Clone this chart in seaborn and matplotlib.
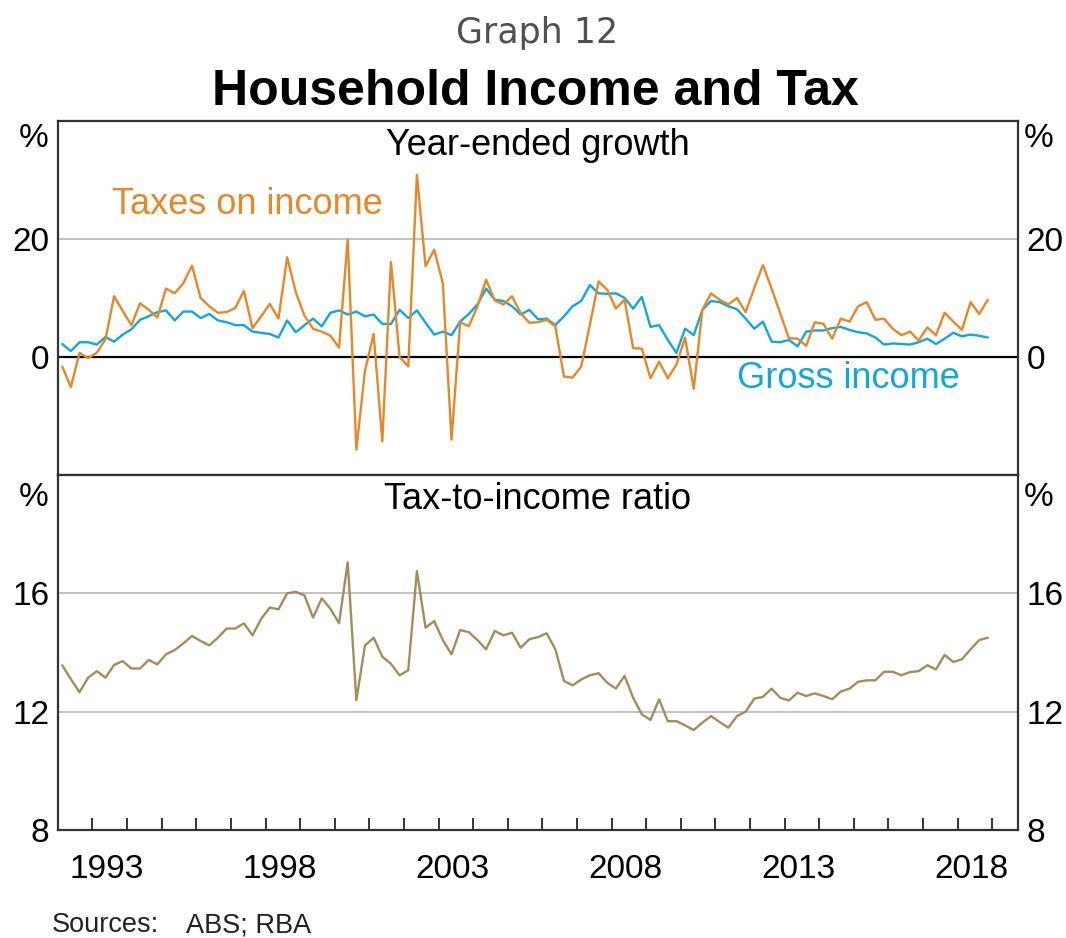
import pandas as pd
import seaborn as sns
import matplotlib.pyplot as plt

# quarterly data, 1992 Q1 to 2018 Q4
first_quarter = '1992Q1'
last_quarter = '2018Q4'

# year-ended growth, per cent
taxes_growth = [
    -1.6, -5.1, 0.7, -0.2, 0.7, 3.0, 10.3, 7.8, 5.4, 9.1, 8.0, 6.7,
    11.6, 10.8, 12.5, 15.5, 10.0, 8.6, 7.5, 7.6, 8.3, 11.2, 4.9, 6.9,
    9.0, 6.5, 16.9, 11.0, 7.0, 4.8, 4.3, 3.6, 1.6, 19.9, -15.7, -2.3,
    3.9, -14.3, 16.1, 0.0, -1.6, 30.9, 15.4, 18.2, 12.5, -14.0, 5.9, 5.2,
    8.6, 13.1, 9.6, 8.9, 10.3, 7.4, 5.8, 5.9, 6.3, 5.2, -3.3, -3.5,
    -1.6, 5.5, 12.8, 11.4, 8.2, 9.7, 1.5, 1.4, -3.6, -0.8, -3.6, -1.3,
    3.3, -5.4, 8.0, 10.8, 9.7, 8.9, 10.0, 7.6, 11.7, 15.6, 11.6, 7.4,
    3.2, 3.1, 1.9, 5.9, 5.6, 3.1, 6.5, 6.0, 8.6, 9.3, 6.3, 6.5,
    4.8, 3.7, 4.3, 2.8, 5.0, 3.7, 7.5, 6.0, 4.6, 9.3, 7.3, 9.7,
]
gross_growth = [
    2.2, 1.0, 2.5, 2.5, 2.1, 3.4, 2.6, 3.8, 4.7, 6.3, 6.9, 7.6,
    7.9, 6.2, 7.7, 7.7, 6.6, 7.3, 6.2, 5.9, 5.4, 5.4, 4.3, 4.1,
    3.9, 3.3, 6.2, 4.2, 5.4, 6.5, 5.2, 7.5, 7.9, 7.2, 7.7, 6.9,
    7.2, 5.6, 5.6, 8.0, 6.6, 7.9, 5.8, 3.8, 4.3, 3.7, 6.0, 7.3,
    8.9, 11.6, 9.7, 9.5, 8.6, 7.2, 8.0, 6.4, 6.5, 5.4, 6.9, 8.6,
    9.5, 12.2, 10.8, 10.7, 10.8, 10.0, 8.2, 10.2, 5.1, 5.4, 2.9, 0.7,
    4.8, 3.7, 8.0, 9.5, 9.3, 8.6, 8.1, 6.5, 4.8, 6.0, 2.6, 2.5,
    2.9, 1.8, 4.3, 4.5, 4.5, 4.9, 5.1, 4.6, 4.2, 4.0, 3.3, 2.1,
    2.3, 2.2, 2.1, 2.5, 3.1, 2.2, 3.1, 4.1, 3.5, 3.8, 3.6, 3.3,
]
# tax-to-income ratio, per cent
tax_ratio = [
    13.57, 13.10, 12.66, 13.15, 13.37, 13.15, 13.58, 13.71, 13.46, 13.46, 13.75, 13.60,
    13.94, 14.08, 14.31, 14.56, 14.39, 14.24, 14.50, 14.81, 14.81, 14.99, 14.58, 15.14,
    15.52, 15.46, 16.00, 16.05, 15.93, 15.18, 15.83, 15.48, 14.99, 17.05, 12.39, 14.24,
    14.50, 13.86, 13.62, 13.23, 13.40, 16.75, 14.84, 15.06, 14.42, 13.94, 14.76, 14.69,
    14.42, 14.11, 14.73, 14.58, 14.67, 14.16, 14.45, 14.52, 14.65, 14.11, 13.04, 12.89,
    13.09, 13.23, 13.30, 12.98, 12.78, 13.21, 12.47, 11.91, 11.72, 12.42, 11.68, 11.68,
    11.54, 11.38, 11.63, 11.85, 11.65, 11.46, 11.85, 12.00, 12.44, 12.50, 12.78, 12.47,
    12.38, 12.64, 12.53, 12.62, 12.53, 12.42, 12.68, 12.78, 13.01, 13.06, 13.06, 13.35,
    13.35, 13.23, 13.34, 13.37, 13.57, 13.43, 13.92, 13.68, 13.77, 14.11, 14.42, 14.50,
]

year_labels = [1993, 1998, 2003, 2008, 2013, 2018]

ORANGE = '#E4882A'
BLUE = '#14A5DE'
TAN = '#A38D5C'
GRID = '#BEBEBE'
FRAME = '#333333'
LABEL_SIZE = 24
NOTE_SIZE = 26


def make_frame():
    q = pd.period_range(first_quarter, last_quarter, freq='Q')
    # plot each quarter in the middle of its period
    t = q.year + (q.quarter - 0.5) / 4
    return pd.DataFrame({'t': t, 'taxes': taxes_growth,
                         'gross': gross_growth, 'ratio': tax_ratio})


def style_panel(ax, ylim, ticks, grid, pct_offset):
    ax.set_ylim(*ylim)
    ax.set_xlim(1992, 2019.75)
    ax.set_yticks(ticks)
    ax.set_yticklabels([str(v) for v in ticks])
    ax.tick_params(axis='y', length=0, labelleft=True, labelright=True,
                   labelsize=LABEL_SIZE, pad=6, labelcolor='black')
    for g in grid:
        ax.axhline(g, color=GRID, lw=1.3, zorder=0)
    for s in ax.spines.values():
        s.set_visible(True)
        s.set_color(FRAME)
        s.set_linewidth(1.6)
    ax.set_xlabel('')
    ax.set_ylabel('')
    # % units at the top of both axes
    ax.annotate('%', xy=(0, 1), xycoords='axes fraction', xytext=(-9, pct_offset),
                textcoords='offset pixels', ha='right', va='top', fontsize=LABEL_SIZE)
    ax.annotate('%', xy=(1, 1), xycoords='axes fraction', xytext=(6, pct_offset),
                textcoords='offset pixels', ha='left', va='top', fontsize=LABEL_SIZE)


df = make_frame()

sns.set_style('white')
plt.rcParams['font.family'] = ['Liberation Sans', 'DejaVu Sans']
plt.rcParams['text.color'] = 'black'

fig = plt.figure(figsize=(10.66, 9.38), dpi=100)
ax_top = fig.add_axes([0.0543, 0.4936, 0.9008, 0.3774])
ax_bot = fig.add_axes([0.0543, 0.1151, 0.9008, 0.3785])

# top panel: growth rates
sns.lineplot(data=df, x='t', y='gross', ax=ax_top, color=BLUE, lw=1.7)
sns.lineplot(data=df, x='t', y='taxes', ax=ax_top, color=ORANGE, lw=1.7)
ax_top.axhline(0, color='black', lw=1.6, zorder=1)
style_panel(ax_top, (-20, 40), [0, 20], [20], -2)
ax_top.set_xticks([])
ax_top.text(0.5, 0.932, 'Year-ended growth', transform=ax_top.transAxes,
            ha='center', va='center', fontsize=NOTE_SIZE)
ax_top.text(0.056, 0.763, 'Taxes on income', transform=ax_top.transAxes,
            ha='left', va='center', fontsize=NOTE_SIZE, color=ORANGE)
ax_top.text(0.707, 0.274, 'Gross income', transform=ax_top.transAxes,
            ha='left', va='center', fontsize=NOTE_SIZE, color=BLUE)

# bottom panel: tax-to-income ratio
sns.lineplot(data=df, x='t', y='ratio', ax=ax_bot, color=TAN, lw=1.7)
style_panel(ax_bot, (8, 20), [8, 12, 16], [12, 16], -7)
ax_bot.text(0.5, 0.93, 'Tax-to-income ratio', transform=ax_bot.transAxes,
            ha='center', va='center', fontsize=NOTE_SIZE)

# year ticks inside, labels centred between them
ax_bot.set_xticks(list(range(1993, 2020)))
ax_bot.set_xticklabels([])
ax_bot.set_xticks([y + 0.4 for y in year_labels], minor=True)
ax_bot.set_xticklabels([str(y) for y in year_labels], minor=True)
ax_bot.tick_params(axis='x', which='major', direction='in', length=9,
                   width=1.4, color=FRAME, bottom=True)
ax_bot.tick_params(axis='x', which='minor', length=0, pad=17,
                   labelsize=LABEL_SIZE, labelcolor='black', bottom=True)

fig.text(0.504, 0.965, 'Graph 12', ha='center', va='center', fontsize=25,
         color='#505050', family=['DejaVu Sans'])
fig.text(0.502, 0.902, 'Household Income and Tax', ha='center', va='center',
         fontsize=36, fontweight='bold', color='black')
fig.text(0.049, 0.0135, 'Sources:', ha='left', va='center', fontsize=19.5, color='#222222')
fig.text(0.1745, 0.0135, 'ABS; RBA', ha='left', va='center', fontsize=19.5, color='#222222')

fig.savefig('out.png', dpi=100)
